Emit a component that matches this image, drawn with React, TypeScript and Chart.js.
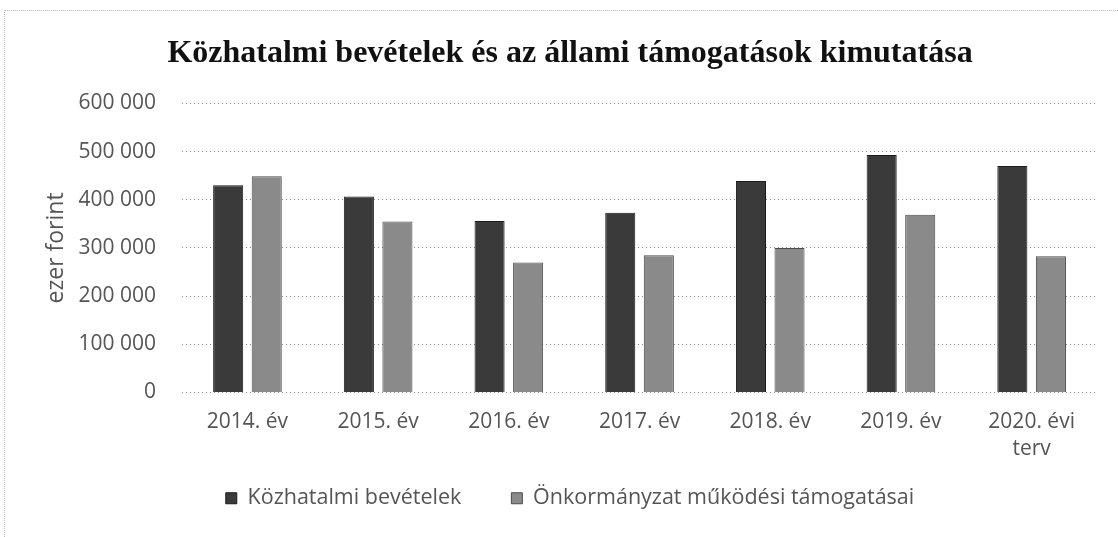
import React, { useEffect, useRef } from "react";
import { Chart, registerables } from "chart.js";

Chart.register(...registerables);

const categories: (string | string[])[] = [
  "2014. év",
  "2015. év",
  "2016. év",
  "2017. év",
  "2018. év",
  "2019. év",
  ["2020. évi", "terv"],
];
const kozhatalmiBevetelek = [430000, 407000, 356000, 373000, 439000, 493000, 470000];
const onkormanyzatTamogatasai = [449000, 355000, 270000, 285000, 300000, 369000, 283000];
const seriesNames = ["Közhatalmi bevételek", "Önkormányzat működési támogatásai"];
const titleText = "Közhatalmi bevételek és az állami támogatások kimutatása";
const yAxisTitle = "ezer forint";

const fmt = (v: number) => String(Math.round(v)).replace(/\B(?=(\d{3})+(?!\d))/g, " ");

export default function App() {
  const ref = useRef<HTMLCanvasElement | null>(null);
  useEffect(() => {
    if (!ref.current) return;
    const font = "'Open Sans', sans-serif";
    const chart = new Chart(ref.current, {
      type: "bar",
      data: {
        labels: categories,
        datasets: [
          {
            label: seriesNames[0],
            data: kozhatalmiBevetelek,
            backgroundColor: "#3a3a3a",
            borderColor: "#1a1a1a",
            borderWidth: 1,
            categoryPercentage: 0.59,
            barPercentage: 0.78,
          },
          {
            label: seriesNames[1],
            data: onkormanyzatTamogatasai,
            backgroundColor: "#8a8a8a",
            borderColor: "#4a4a4a",
            borderWidth: 1,
            categoryPercentage: 0.59,
            barPercentage: 0.78,
          },
        ],
      },
      options: {
        animation: false,
        responsive: false,
        layout: { padding: { left: 43, right: 21, top: 0, bottom: 18 } },
        plugins: {
          title: {
            display: true,
            text: titleText,
            color: "#111",
            font: { family: "'Liberation Serif', 'Times New Roman', serif", size: 32, weight: "bold" },
            padding: { top: 35, bottom: 30 },
          },
          legend: {
            position: "bottom",
            labels: {
              color: "#555",
              font: { family: font, size: 21.5 },
              boxWidth: 11,
              boxHeight: 11,
              padding: 50,
            },
          },
          tooltip: { enabled: false },
        },
        scales: {
          x: {
            grid: { display: false, drawTicks: false, tickLength: 0 },
            border: { display: false },
            afterFit: (scale: any) => {
              scale.height = 45;
            },
            ticks: {
              color: "#555",
              font: { family: font, size: 21, lineHeight: 1.3 },
              padding: 16,
              maxRotation: 0,
              autoSkip: false,
            },
          },
          y: {
            min: 0,
            max: 600000,
            border: { display: false, dash: [1, 3] },
            grid: { color: "#8a8a8a", tickLength: 0, drawTicks: false, lineWidth: 1 },
            ticks: {
              stepSize: 100000,
              color: "#555",
              font: { family: font, size: 21 },
              padding: 26,
              callback: (v: any) => fmt(Number(v)),
            },
            title: {
              display: true,
              text: yAxisTitle,
              color: "#555",
              font: { family: font, size: 23 },
              padding: { top: 0, bottom: -18 },
            },
          },
        },
      },
      plugins: [
        {
          id: "xLabelRoom",
          afterLayout(c: any) {
            const xs = c.scales.x;
            xs.bottom = xs.top + 90;
            xs.height = 90;
          },
        },
      ],
    });
    return () => chart.destroy();
  }, []);
  return (
    <div
      style={{
        position: "fixed",
        left: 0,
        top: 0,
        width: 1118,
        height: 537,
        background: "#fff",
      }}
    >
      <div
        style={{
          position: "absolute",
          left: 4,
          top: 10,
          right: 0,
          bottom: 0,
          borderTop: "1px dotted #bbb",
          borderLeft: "1px dotted #bbb",
        }}
      />
      <canvas ref={ref} width={1118} height={537} style={{ position: "absolute", left: 0, top: 0 }} />
    </div>
  );
}
